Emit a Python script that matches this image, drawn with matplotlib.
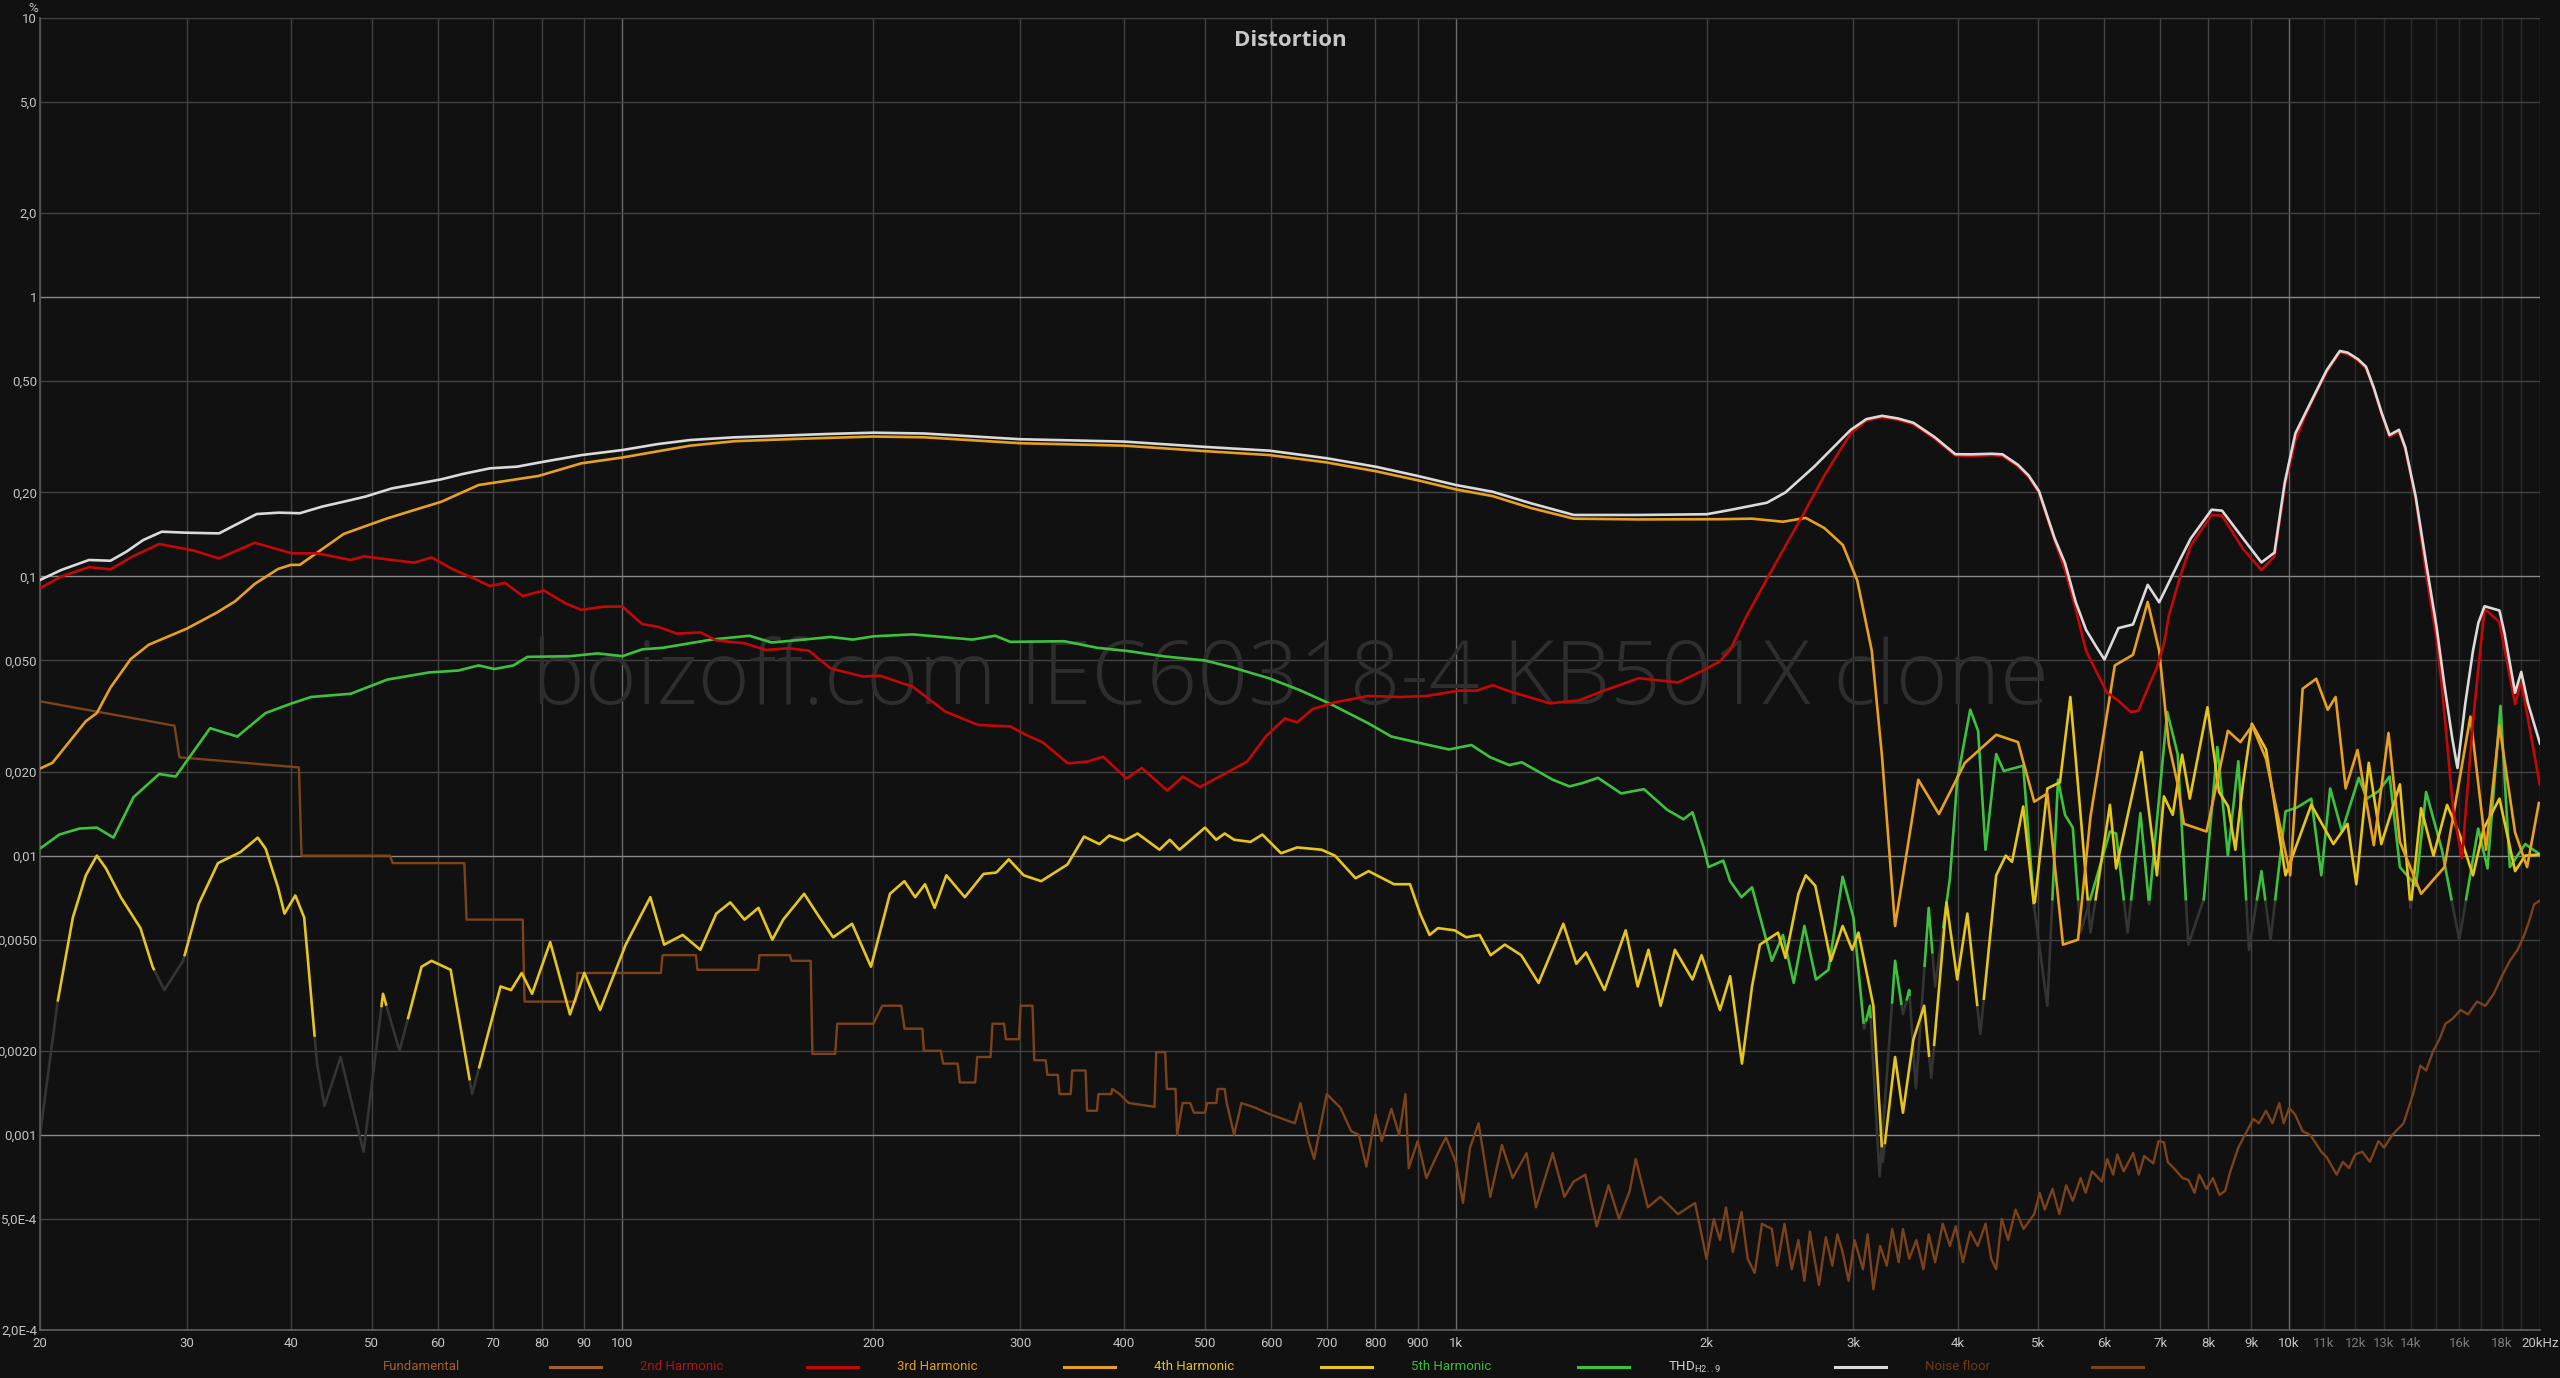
import numpy as np
import matplotlib
matplotlib.use('Agg')
import matplotlib.pyplot as plt
from matplotlib.lines import Line2D

plt.rcParams['font.family'] = ['Roboto', 'DejaVu Sans']

# ---------------- data ----------------
THD_f = [20, 21.2, 22.9, 24.3, 25.4, 26.6, 28.0, 30.0, 32.8, 34.3, 36.4, 38.7, 41.0, 43.6, 46.3, 49.1,
         52.9, 57.1, 60.6, 64.3, 69.3, 74.7, 80.5, 89.4, 100, 110.3, 120.6, 136, 151, 175.4, 200, 230,
         300, 400, 500, 598, 700, 802, 900, 1000, 1107, 1229, 1385, 1658, 2000, 2134, 2363, 2487, 2691,
         2978, 3110, 3247, 3392, 3541, 3752, 3976, 4153, 4399, 4529, 4727, 4868, 5010, 5232, 5383, 5543,
         5705, 5873, 6003, 6240, 6496, 6765, 6983, 7397, 7619, 8073, 8308, 8805, 9263, 9602, 9880, 10175,
         10470, 10777, 11095, 11503, 11756, 12093, 12365, 12636, 12906, 13196, 13544, 13783, 14185, 14600,
         15024, 15360, 15694, 15920, 16270, 16620, 16870, 17160, 17880, 18133, 18670, 18990, 19347, 20000]
THD_v = [0.0971, 0.1054, 0.1145, 0.1138, 0.1227, 0.135, 0.1446, 0.1434, 0.1426, 0.1528, 0.1673, 0.1692,
         0.1684, 0.1778, 0.1852, 0.193, 0.2067, 0.2154, 0.2227, 0.2327, 0.2438, 0.2472, 0.2576, 0.2721,
         0.2836, 0.2979, 0.308, 0.3148, 0.3183, 0.3236, 0.3272, 0.325, 0.310, 0.304, 0.291, 0.282, 0.265,
         0.247, 0.229, 0.2125, 0.201, 0.183, 0.166, 0.166, 0.167, 0.173, 0.1837, 0.200, 0.247, 0.335,
         0.366, 0.376, 0.368, 0.355, 0.316, 0.274, 0.2737, 0.275, 0.2737, 0.251, 0.230, 0.202, 0.1367,
         0.1116, 0.0812, 0.0644, 0.0558, 0.0504, 0.0653, 0.0673, 0.0933, 0.0808, 0.1149, 0.1367, 0.1734,
         0.172, 0.1367, 0.1122, 0.1217, 0.217, 0.3255, 0.387, 0.4605, 0.548, 0.642, 0.633, 0.600, 0.564,
         0.474, 0.387, 0.321, 0.335, 0.290, 0.1934, 0.1116, 0.0663, 0.0406, 0.0263, 0.0206, 0.0351, 0.0542,
         0.0683, 0.0782, 0.0755, 0.0626, 0.0383, 0.0455, 0.0351, 0.0252]

H2_f = [20, 21.2, 22.9, 24.3, 25.8, 27.8, 30.5, 32.8, 36.2, 40.1, 43.0, 47.2, 49.0, 52.2, 56.3, 59.0, 62.6,
        66.3, 69.3, 72.3, 75.9, 80.5, 85.5, 89.2, 94.9, 100, 105.6, 110.3, 116.2, 124.1, 129.6, 140.2, 148.7,
        158, 167.4, 177.8, 194.4, 203.7, 222.9, 244, 267, 292, 305.6, 319.7, 342.3, 361, 377.3, 402.6, 420,
        450.6, 470.6, 493, 529, 561.6, 591.6, 623.7, 645, 673.4, 715.7, 785, 858, 921.6, 1009, 1060, 1107,
        1159, 1297, 1406, 1499, 1658, 1848, 1985, 2075, 2134, 2234, 2395, 2612, 2769, 2978, 3110, 3247,
        3392, 3541, 3752, 3976, 4153, 4399, 4529, 4727, 4868, 5010, 5232, 5383, 5543, 5705, 5873, 6048,
        6223, 6454, 6593, 6786, 6934, 7075, 7173, 7397, 7619, 8073, 8308, 8805, 9263, 9602, 9880, 10175,
        10470, 10777, 11095, 11503, 11756, 12093, 12365, 12636, 12906, 13196, 13544, 13783, 14185, 14600,
        15024, 15250, 15730, 16120, 16620, 17160, 17880, 18670, 18990, 20000]
H2_v = [0.0907, 0.0998, 0.108, 0.106, 0.1177, 0.1306, 0.124, 0.116, 0.132, 0.121, 0.121, 0.1145, 0.118,
        0.1151, 0.112, 0.117, 0.106, 0.0984, 0.0924, 0.0948, 0.0851, 0.089, 0.080, 0.0759, 0.0779, 0.078,
        0.0675, 0.066, 0.0624, 0.063, 0.059, 0.0576, 0.0545, 0.0553, 0.0542, 0.0468, 0.0438, 0.0441,
        0.0403, 0.0328, 0.0294, 0.029, 0.027, 0.0254, 0.0214, 0.0217, 0.0226, 0.0189, 0.0206, 0.0171,
        0.0192, 0.0176, 0.0197, 0.0217, 0.0267, 0.031, 0.030, 0.0335, 0.0354, 0.0373, 0.037, 0.0373, 0.039,
        0.039, 0.0408, 0.0388, 0.0351, 0.036, 0.0388, 0.0432, 0.0417, 0.0462, 0.0497, 0.0545, 0.0723,
        0.1054, 0.167, 0.23, 0.3255, 0.362, 0.372, 0.364, 0.351, 0.312, 0.271, 0.270, 0.272, 0.270, 0.248,
        0.227, 0.199, 0.134, 0.1054, 0.0766, 0.0542, 0.0455, 0.0383, 0.0361, 0.0327, 0.033, 0.0406, 0.0469,
        0.0574, 0.0723, 0.0995, 0.129, 0.166, 0.165, 0.1254, 0.1054, 0.118, 0.21, 0.307, 0.38, 0.455,
        0.54, 0.635, 0.626, 0.594, 0.557, 0.469, 0.382, 0.317, 0.33, 0.285, 0.19, 0.1023, 0.06, 0.0406,
        0.0147, 0.0098, 0.0304, 0.0766, 0.0686, 0.0349, 0.042, 0.0178]

H3_f = [20, 20.7, 22.7, 23.4, 24.3, 25.7, 27.0, 30.0, 32.6, 34.3, 36.2, 38.6, 40, 41.0, 46.3, 52.2, 57.0,
        60.6, 67.2, 79.3, 89.2, 100, 120.6, 136.3, 162.4, 200, 230, 300, 400, 500, 598, 700, 802, 900,
        1000, 1107, 1229, 1385, 1658, 2075, 2267, 2469, 2630, 2769, 2914, 3032, 3156, 3247, 3366, 3589,
        3800, 4082, 4451, 4727, 4944, 5127, 5353, 5580, 5776, 6177, 6496, 6765, 6983, 7173, 7350, 7477,
        7960, 8443, 8740, 9030, 9382, 10030, 10380, 10777, 11125, 11370, 11690, 12080, 12636, 13160,
        13580, 14400, 15360, 16500, 17230, 17880, 18670, 19300, 19950]
H3_v = [0.0205, 0.0215, 0.0303, 0.0324, 0.040, 0.0506, 0.0569, 0.065, 0.0742, 0.0815, 0.094, 0.1063,
        0.11, 0.11, 0.142, 0.1614, 0.175, 0.185, 0.2125, 0.229, 0.254, 0.2667, 0.294, 0.305, 0.311, 0.317,
        0.315, 0.300, 0.294, 0.281, 0.272, 0.256, 0.238, 0.221, 0.205, 0.194, 0.176, 0.161, 0.160, 0.1603,
        0.161, 0.157, 0.162, 0.149, 0.1295, 0.0967, 0.0542, 0.0226, 0.0056, 0.0187, 0.0141, 0.0215, 0.0271,
        0.0255, 0.0156, 0.0167, 0.0048, 0.005, 0.0138, 0.048, 0.0524, 0.081, 0.0542, 0.025, 0.018, 0.013,
        0.0122, 0.028, 0.0255, 0.0292, 0.0222, 0.0085, 0.0396, 0.043, 0.0333, 0.037, 0.0174, 0.0239,
        0.0109, 0.0275, 0.0112, 0.0073, 0.0091, 0.0315, 0.0105, 0.0292, 0.0121, 0.0091, 0.0156]

H4_f = [20, 21.0, 21.9, 22.7, 23.4, 24.0, 25.0, 26.4, 27.3, 28.2, 29.7, 31.0, 32.7, 34.8, 36.5, 37.3, 38.6,
        39.3, 40.5, 41.5, 43.0, 43.9, 45.9, 48.9, 51.6, 54.0, 57.4, 59.0, 62.2, 66.0, 71.4, 73.5, 75.7,
        77.9, 81.9, 86.5, 90, 94, 100.9, 108, 112.2, 118.1, 124, 129.6, 134.7, 140.1, 145.6, 151.3, 155.9,
        165.2, 172.4, 179, 188.6, 198.7, 209.4, 217.9, 224.5, 230.7, 236.9, 244.7, 257.5, 271.2, 281,
        290.8, 303, 318, 342, 358, 373.5, 383.8, 400, 415, 441, 453.7, 466, 500, 515.7, 528, 542, 567,
        586, 617, 645, 690, 716, 758, 786, 843, 881, 906, 930, 952, 997, 1029, 1068, 1101, 1145, 1198,
        1257, 1346, 1395, 1433, 1508, 1599, 1653, 1703, 1761, 1832, 1923, 1972, 2075, 2134, 2205, 2267,
        2317, 2436, 2487, 2577, 2630, 2700, 2819, 2912, 2990, 3042, 3170, 3253, 3366, 3440, 3541, 3648,
        3720, 3880, 3997, 4110, 4260, 4451, 4570, 4650, 4796, 4944, 5127, 5308, 5463, 5620, 5776, 6095,
        6200, 6650, 6940, 7075, 7250, 7440, 7600, 7980, 8240, 8450, 8620, 8800, 9020, 9382, 9900, 10630,
        11300, 11750, 12040, 12460, 12900, 13580, 13990, 14400, 14900, 15470, 16000, 16620, 17120, 17880,
        18670, 19200, 20000]
H4_v = [0.001, 0.0030, 0.0060, 0.0085, 0.0100, 0.0090, 0.0071, 0.0055, 0.0040, 0.0033, 0.0042, 0.0067,
        0.0094, 0.0103, 0.0116, 0.0106, 0.0077, 0.0062, 0.0072, 0.0060, 0.0018, 0.00127, 0.0019, 0.00087,
        0.0032, 0.0020, 0.0040, 0.0042, 0.0039, 0.0014, 0.0034, 0.0033, 0.0038, 0.0032, 0.0049, 0.0027,
        0.0038, 0.0028, 0.0048, 0.0071, 0.0048, 0.0052, 0.0046, 0.0062, 0.0068, 0.0059, 0.0065, 0.0050,
        0.0059, 0.0073, 0.0060, 0.0051, 0.0057, 0.0040, 0.0073, 0.0081, 0.0071, 0.0079, 0.0065, 0.0085,
        0.0071, 0.0086, 0.0087, 0.0097, 0.0085, 0.0081, 0.0093, 0.0117, 0.0110, 0.0118, 0.0113, 0.0120,
        0.0105, 0.0114, 0.0105, 0.0126, 0.0114, 0.0120, 0.0114, 0.0112, 0.0119, 0.0102, 0.0107, 0.0105,
        0.0100, 0.0083, 0.0088, 0.0079, 0.0079, 0.0062, 0.0052, 0.0055, 0.0054, 0.0051, 0.0052, 0.0044,
        0.0048, 0.0044, 0.0035, 0.0057, 0.0041, 0.0045, 0.0033, 0.0054, 0.0034, 0.0046, 0.0029, 0.0046,
        0.0036, 0.0044, 0.0028, 0.0037, 0.0018, 0.0034, 0.0048, 0.0053, 0.0043, 0.0073, 0.0085, 0.0078,
        0.0042, 0.0056, 0.0046, 0.0053, 0.0029, 0.0008, 0.0019, 0.0012, 0.0022, 0.0029, 0.0016, 0.0068,
        0.0036, 0.0062, 0.0023, 0.0085, 0.0100, 0.0095, 0.0150, 0.0065, 0.0174, 0.0183, 0.0370, 0.0140,
        0.0053, 0.0152, 0.0090, 0.0235, 0.0085, 0.0163, 0.0140, 0.0230, 0.0160, 0.0340, 0.0169, 0.0150,
        0.0105, 0.0180, 0.0297, 0.0240, 0.0085, 0.0152, 0.0110, 0.0130, 0.0079, 0.0215, 0.0110, 0.0180,
        0.0065, 0.0148, 0.0100, 0.0152, 0.0120, 0.0085, 0.0125, 0.0160, 0.0088, 0.0100, 0.0101]

H5_f = [20, 21.1, 22.3, 23.4, 24.5, 25.9, 27.8, 29.1, 32.0, 34.5, 37.3, 40.1, 42.3, 47.2, 52.2, 58.6, 63.5,
        67.2, 70.2, 74.0, 76.9, 86.5, 93.4, 100, 105.6, 111.8, 127.9, 142, 151, 165, 177.8, 189, 200,
        222.9, 263, 280, 292, 339, 371.5, 405, 447, 500, 537, 598, 649, 705, 785, 837, 906, 981, 1044,
        1100, 1159, 1200, 1307, 1369, 1420, 1481, 1579, 1682, 1793, 1876, 1923, 1985, 2010, 2094, 2134,
        2202, 2267, 2395, 2469, 2544, 2620, 2705, 2800, 2912, 3000, 3090, 3140, 3225, 3366, 3440, 3500,
        3565, 3694, 3760, 3917, 3997, 4143, 4234, 4322, 4451, 4545, 4796, 4944, 5127, 5280, 5383, 5500,
        5620, 6095, 6200, 6400, 6630, 6790, 7140, 7350, 7570, 7900, 8200, 8443, 8690, 8950, 9263, 9500,
        9900, 10230, 10630, 10930, 11200, 11570, 12120, 12400, 12800, 13200, 13580, 14200, 14600, 15250,
        16000, 16860, 17300, 17930, 18400, 19200, 20000]
H5_v = [0.0106, 0.0119, 0.0125, 0.0126, 0.0116, 0.0162, 0.0196, 0.0192, 0.0286, 0.0267, 0.0324, 0.0351,
        0.037, 0.038, 0.0427, 0.0453, 0.046, 0.048, 0.0466, 0.048, 0.0515, 0.0518, 0.053, 0.0518, 0.0548,
        0.0555, 0.0594, 0.0613, 0.058, 0.0594, 0.0607, 0.0594, 0.061, 0.062, 0.0594, 0.0613, 0.0583,
        0.0586, 0.0555, 0.054, 0.0517, 0.05, 0.0474, 0.0431, 0.0392, 0.0351, 0.0298, 0.0267, 0.0253,
        0.024, 0.0249, 0.0225, 0.0211, 0.0216, 0.0187, 0.0177, 0.0182, 0.019, 0.0167, 0.0173, 0.0146,
        0.0135, 0.0143, 0.0106, 0.0091, 0.0096, 0.0081, 0.0071, 0.0077, 0.0042, 0.0052, 0.0035, 0.0056,
        0.0036, 0.0039, 0.0084, 0.006, 0.0024, 0.0029, 0.00071, 0.0042, 0.0027, 0.0033, 0.00147, 0.0065,
        0.0034, 0.0083, 0.0187, 0.0333, 0.028, 0.0105, 0.0231, 0.0201, 0.021, 0.0065, 0.0029, 0.0187,
        0.014, 0.0126, 0.0053, 0.0122, 0.012, 0.0053, 0.0142, 0.0067, 0.0327, 0.0231, 0.0048, 0.007,
        0.0245, 0.01, 0.0218, 0.0046, 0.0088, 0.005, 0.0144, 0.0149, 0.016, 0.0085, 0.0174, 0.0122, 0.019,
        0.016, 0.017, 0.0192, 0.0091, 0.0078, 0.0169, 0.0105, 0.005, 0.0125, 0.009, 0.0344, 0.0091, 0.011,
        0.0101]

NF_f = [20, 29.0, 29.4, 40.9, 41.2, 52.6, 53.0, 64.6, 65.0, 75.9, 76.3, 87.9, 88.3, 111.2, 111.7, 122.5,
        123, 145.5, 146, 158.8, 159.5, 168.2, 169, 180, 181, 200, 205, 216, 218, 229, 230, 241, 242.5,
        252.5, 254, 265, 266.5, 276.5, 278, 287, 288.5, 299, 300.5, 310.5, 312, 322, 323.5, 333, 334.5,
        345, 346.5, 359.5, 361, 371, 372.5, 386, 387, 395, 405, 435, 437, 448, 450, 461, 463, 470, 480,
        485, 500, 503, 516, 518, 528, 531, 542, 553, 575, 596, 641, 651, 666, 676, 700, 727, 749, 765,
        781, 801, 815, 837, 855, 870, 878, 900, 922, 950, 973, 1000, 1020, 1040, 1065, 1100, 1136, 1170,
        1216, 1248, 1307, 1350, 1385, 1430, 1476, 1525, 1570, 1617, 1644, 1700, 1760, 1848, 1937, 1999,
        2040, 2075, 2110, 2150, 2202, 2240, 2284, 2330, 2395, 2430, 2480, 2530, 2577, 2620, 2660, 2728,
        2780, 2830, 2870, 2912, 2960, 3010, 3080, 3120, 3170, 3230, 3290, 3340, 3400, 3440, 3500, 3570,
        3640, 3694, 3760, 3840, 3917, 3980, 4060, 4143, 4230, 4322, 4390, 4451, 4520, 4600, 4696, 4800,
        4944, 5020, 5090, 5200, 5300, 5400, 5500, 5620, 5700, 5800, 5960, 6050, 6150, 6220, 6330, 6500,
        6600, 6700, 6870, 6970, 7075, 7150, 7300, 7450, 7570, 7700, 7800, 7960, 8100, 8250, 8380, 8500,
        8690, 8850, 9060, 9200, 9380, 9550, 9730, 9850, 10000, 10170, 10380, 10600, 10930, 11100, 11400,
        11600, 11800, 12000, 12240, 12500, 12800, 13000, 13300, 13720, 14080, 14370, 14600, 14890, 15150,
        15400, 15700, 16060, 16400, 16800, 17200, 17600, 18000, 18400, 18800, 19150, 19400, 19680, 20000]
NF_v = [0.0357, 0.0292, 0.0225, 0.0207, 0.0100, 0.0100, 0.0094, 0.0094, 0.0059, 0.0059, 0.0030, 0.0030,
        0.0038, 0.0038, 0.0044, 0.0044, 0.0039, 0.0039, 0.0044, 0.0044, 0.0042, 0.0042, 0.00195, 0.00195,
        0.0025, 0.0025, 0.0029, 0.0029, 0.0024, 0.0024, 0.0020, 0.0020, 0.0018, 0.0018, 0.00154, 0.00154,
        0.0019, 0.0019, 0.0025, 0.0025, 0.0022, 0.0022, 0.0029, 0.0029, 0.00185, 0.00185, 0.00164,
        0.00164, 0.0014, 0.0014, 0.0017, 0.0017, 0.00122, 0.00122, 0.0014, 0.0014, 0.00146, 0.0014,
        0.0013, 0.00126, 0.00198, 0.00198, 0.00146, 0.00146, 0.0010, 0.0013, 0.0013, 0.0012, 0.0012,
        0.0013, 0.0013, 0.00146, 0.00146, 0.0013, 0.0010, 0.0013, 0.00125, 0.00119, 0.0011, 0.0013,
        0.00095, 0.00082, 0.0014, 0.00125, 0.00103, 0.0010, 0.00077, 0.00118, 0.00095, 0.00124, 0.0010,
        0.0014, 0.00076, 0.00095, 0.0007, 0.00085, 0.00098, 0.0008, 0.00057, 0.0009, 0.0011, 0.0006,
        0.00092, 0.0007, 0.00086, 0.00055, 0.00086, 0.0006, 0.00068, 0.00072, 0.00047, 0.00066, 0.0005,
        0.00063, 0.00082, 0.00055, 0.0006, 0.00052, 0.00057, 0.00036, 0.0005, 0.00042, 0.00055, 0.00038,
        0.00053, 0.00036, 0.00032, 0.00048, 0.00046, 0.00034, 0.00048, 0.00033, 0.00042, 0.0003, 0.00045,
        0.00029, 0.00043, 0.00034, 0.00044, 0.00038, 0.0003, 0.00042, 0.00033, 0.00044, 0.00028, 0.0004,
        0.00034, 0.00046, 0.00035, 0.00046, 0.00036, 0.00042, 0.00033, 0.00044, 0.00035, 0.00048, 0.0004,
        0.00047, 0.00035, 0.00045, 0.0004, 0.00048, 0.00036, 0.00033, 0.0005, 0.00042, 0.00054, 0.00046,
        0.00052, 0.00062, 0.00054, 0.00064, 0.00052, 0.00066, 0.00058, 0.0007, 0.00062, 0.00074, 0.00068,
        0.00082, 0.00072, 0.00085, 0.00074, 0.00086, 0.00072, 0.00084, 0.00079, 0.00095, 0.00094, 0.0008,
        0.00075, 0.0007, 0.00069, 0.00062, 0.00072, 0.00064, 0.0007, 0.00061, 0.00063, 0.00074, 0.0009,
        0.0010, 0.00114, 0.0011, 0.00122, 0.0011, 0.0013, 0.0011, 0.00125, 0.00118, 0.00103, 0.0010,
        0.00087, 0.00083, 0.00072, 0.0008, 0.00076, 0.00085, 0.00087, 0.0008, 0.00095, 0.0009, 0.0010,
        0.0011, 0.0014, 0.00177, 0.0017, 0.0020, 0.0022, 0.0025, 0.0026, 0.0028, 0.0027, 0.0030, 0.0029,
        0.0032, 0.0037, 0.0042, 0.0046, 0.0052, 0.0058, 0.0067, 0.0069]

X_TICKS = [20, 30, 40, 50, 60, 70, 80, 90, 100, 200, 300, 400, 500, 600, 700, 800, 900, 1000, 2000, 3000,
           4000, 5000, 6000, 7000, 8000, 9000, 10000, 11000, 12000, 13000, 14000, 16000, 18000, 20000]
X_LABELS = ['20', '30', '40', '50', '60', '70', '80', '90', '100', '200', '300', '400', '500', '600', '700',
            '800', '900', '1k', '2k', '3k', '4k', '5k', '6k', '7k', '8k', '9k', '10k', '11k', '12k', '13k',
            '14k', '16k', '18k', '20kHz']
X_EXTRA_GRID = [15000, 17000, 19000]
Y_TICKS = [10, 5, 2, 1, 0.5, 0.2, 0.1, 0.05, 0.02, 0.01, 0.005, 0.002, 0.001, 5e-4, 2e-4]
Y_LABELS = ['10', '5,0', '2,0', '1', '0,50', '0,20', '0,1', '0,050', '0,020', '0,01', '0,0050', '0,0020',
            '0,001', '5,0E-4', '2,0E-4']
LEGEND_NAMES = ['Fundamental', '2nd Harmonic', '3rd Harmonic', '4th Harmonic', '5th Harmonic',
                r'THD$_{\mathregular{H2..9}}$', 'Noise floor']

# ---------------- style ----------------
BG = '#111111'
C_FUND = '#a5602a'
C_H2 = '#c40808'
C_H3 = '#e8a020'
C_H4 = '#e6c51c'
C_H5 = '#3ec23e'
C_THD = '#dadada'
C_NF = '#7c4219'
C_LOW = '#343434'
LEGEND_COLORS = [C_FUND, C_H2, C_H3, C_H4, C_H5, C_THD, C_NF]
LEGEND_TEXT_COLORS = ['#a0602c', '#b01414', '#e0a020', '#e0c020', '#3cbc3c', '#d0d0d0', '#6e3a16']
LW = 1.9

W, H = 2560, 1378
fig = plt.figure(figsize=(W / 100, H / 100), dpi=100, facecolor=BG)
ax = fig.add_axes([40 / W, 48 / H, 2500 / W, 1312 / H])
ax.set_facecolor(BG)
ax.set_xscale('log')
ax.set_yscale('log')
ax.set_xlim(20, 20000)
ax.set_ylim(2e-4, 10)

# grid
for f in X_TICKS + X_EXTRA_GRID:
    if f in (100, 1000, 10000):
        col = '#6a6a6a'
    elif 10000 < f < 20000:
        col = '#2c2c2c'
    else:
        col = '#424242'
    ax.axvline(f, color=col, lw=1.0, zorder=1)
for v in Y_TICKS:
    col = '#8a8a8a' if v in (1, 0.1, 0.01, 0.001) else '#424242'
    ax.axhline(v, color=col, lw=1.0, zorder=1)

for s in ['top', 'right']:
    ax.spines[s].set_visible(False)
ax.spines['left'].set_color('#555555')
ax.spines['bottom'].set_color('#5a5a5a')
ax.spines['left'].set_linewidth(1.3)
ax.spines['bottom'].set_linewidth(1.3)

ax.xaxis.set_minor_locator(matplotlib.ticker.NullLocator())
ax.yaxis.set_minor_locator(matplotlib.ticker.NullLocator())
ax.set_xticks(X_TICKS)
ax.set_xticklabels(X_LABELS)
ax.set_yticks(Y_TICKS)
ax.set_yticklabels(Y_LABELS)
ax.tick_params(axis='x', length=0, pad=5, labelsize=9.5, colors='#c4c4c4')
ax.tick_params(axis='y', length=0, pad=2, labelsize=9.5, colors='#c4c4c4')
for f, lab in zip(X_TICKS, ax.get_xticklabels()):
    if 10000 < f < 20000:
        lab.set_color('#7a7a7a')

# watermark
ax.text(0.5, 0.495, 'boizoff.com IEC60318-4 KB501X clone', transform=ax.transAxes, ha='center',
        va='center', fontsize=64, color='#2e2e2e', family=['Open Sans', 'DejaVu Sans'],
        fontweight='light', zorder=1.5)

# curves
nf_lf = np.log10(NF_f)
nf_lv = np.log10(NF_v)


def noise_at(f):
    return 10 ** np.interp(np.log10(f), nf_lf, nf_lv)


def draw_harm(f, v, n, color, z):
    f = np.asarray(f, float)
    v = np.asarray(v, float)
    lf, lv = np.log10(f), np.log10(v)
    d = lv - np.log10(noise_at(n * f))
    runs = []
    cur = [(lf[0], lv[0])]
    state = d[0] >= 0
    for i in range(len(f) - 1):
        s1 = d[i + 1] >= 0
        if s1 != state:
            t = d[i] / (d[i] - d[i + 1])
            pm = (lf[i] + t * (lf[i + 1] - lf[i]), lv[i] + t * (lv[i + 1] - lv[i]))
            cur.append(pm)
            runs.append((state, cur))
            cur = [pm]
            state = s1
        cur.append((lf[i + 1], lv[i + 1]))
    runs.append((state, cur))
    for st, pts in runs:
        pts = np.array(pts)
        ax.plot(10 ** pts[:, 0], 10 ** pts[:, 1], color=color if st else C_LOW, lw=LW,
                zorder=z if st else 2, solid_joinstyle='round', solid_capstyle='butt')


ax.plot(NF_f, NF_v, color=C_NF, lw=LW * 0.9, zorder=2.5)
draw_harm(H5_f, H5_v, 5, C_H5, 3.0)
draw_harm(H4_f, H4_v, 4, C_H4, 3.1)
draw_harm(H3_f, H3_v, 3, C_H3, 3.2)
draw_harm(H2_f, H2_v, 2, C_H2, 3.3)
ax.plot(THD_f, THD_v, color=C_THD, lw=LW, zorder=4, solid_joinstyle='round')

# title and unit
fig.text(1290 / W, 1 - 40 / H, 'Distortion', ha='center', va='center', fontsize=16, fontweight='bold',
         color='#c8c8c8', family=['Open Sans', 'DejaVu Sans'])
fig.text(33 / W, 1 - 8 / H, '%', ha='center', va='center', fontsize=9.5, color='#c4c4c4')

# legend
y_leg = 1 - 1367 / H
for i, (name, lc, tc) in enumerate(zip(LEGEND_NAMES, LEGEND_COLORS, LEGEND_TEXT_COLORS)):
    x0 = 383 + 257 * i
    fig.text(x0 / W, y_leg, name, ha='left', va='center', fontsize=9.5, color=tc)
    fig.add_artist(Line2D([(x0 + 167) / W, (x0 + 218) / W], [y_leg, y_leg], color=lc, lw=2.2,
                          transform=fig.transFigure))

fig.savefig('out.png', dpi=100, facecolor=BG)
